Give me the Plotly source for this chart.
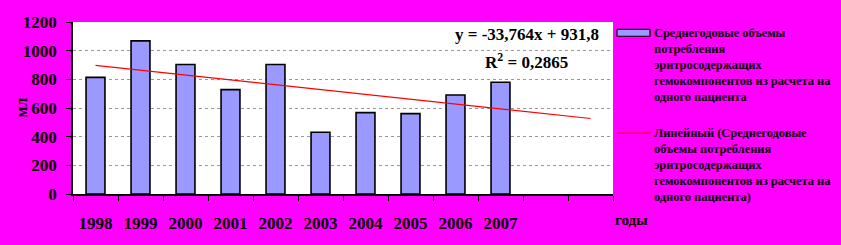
import plotly.graph_objects as go

years = ["1998", "1999", "2000", "2001", "2002", "2003", "2004", "2005", "2006", "2007"]
values = [814, 1068, 903, 728, 903, 431, 568, 561, 691, 780]
n_slots = 12
slope = -33.764
intercept = 931.8
r2_text = "0,2865"
y_ticks = [0, 200, 400, 600, 800, 1000, 1200]

bar_name = ("Среднегодовые объемы<br>потребления<br>эритросодержащих<br>"
            "гемокомпонентов из расчета на<br>одного пациента")
line_name = ("Линейный (Среднегодовые<br>объемы потребления<br>эритросодержащих<br>"
             "гемокомпонентов из расчета на<br>одного пациента)")

BAR_COLOR = "#9999FF"
LINE_COLOR = "#FF0000"

xs = list(range(1, len(years) + 1))
trend_x = [1, n_slots]
trend_y = [slope * x + intercept for x in trend_x]

SERIF = "Liberation Serif, Times New Roman, serif"

# plot area in pixels
L, R, T, B = 73, 613, 22, 197
W, H = R - L, B - T


def px_x(x):
    return (x - L) / W


def px_y(y):
    return (B - y) / H


fig = go.Figure()
fig.add_trace(go.Bar(
    x=xs, y=values, name=bar_name, width=0.42,
    marker=dict(color=BAR_COLOR, line=dict(color="black", width=1.6)),
    showlegend=False,
))
fig.add_trace(go.Scatter(
    x=trend_x, y=trend_y, mode="lines", name=line_name,
    line=dict(color=LINE_COLOR, width=1.2), showlegend=False,
))

fig.update_layout(
    width=841, height=245,
    margin=dict(l=L, r=841 - R, t=T, b=245 - B),
    paper_bgcolor="#FF00FF", plot_bgcolor="white",
    font=dict(family=SERIF, size=16, color="black"),
    showlegend=False,
)
fig.update_xaxes(
    range=[0.5, n_slots + 0.5],
    tickmode="array", tickvals=xs, ticktext=years, ticks="",
    minor=dict(tick0=0.5, dtick=1, ticks="outside", ticklen=5, tickcolor="black", showgrid=False),
    showline=True, linecolor="black", linewidth=1.5,
    showgrid=False, zeroline=False,
    ticklabelstandoff=13,
    tickfont=dict(family=SERIF, size=17, color="black", weight="bold"),
)
fig.update_yaxes(
    range=[0, 1200], tickmode="array", tickvals=y_ticks,
    ticks="outside", ticklen=5, tickcolor="black",
    showline=True, linecolor="black", linewidth=1.5,
    showgrid=True, gridcolor="#999999", griddash="dot", gridwidth=1,
    zeroline=False,
    ticklabelstandoff=6,
    tickfont=dict(family=SERIF, size=17, color="black", weight="bold"),
)

fig.add_annotation(
    xref="paper", yref="paper", x=px_x(601), y=px_y(35),
    xanchor="right", yanchor="middle", showarrow=False,
    text=f"y = {slope:.3f}x + {intercept:.1f}".replace(".", ","),
    font=dict(family=SERIF, size=17, color="black", weight="bold"),
)
fig.add_annotation(
    xref="paper", yref="paper", x=px_x(570), y=px_y(62),
    xanchor="right", yanchor="middle", showarrow=False,
    text=f"R<sup>2</sup> = {r2_text}",
    font=dict(family=SERIF, size=17, color="black", weight="bold"),
)
fig.add_annotation(
    xref="paper", yref="paper", x=px_x(22), y=px_y(109),
    xanchor="center", yanchor="middle", showarrow=False, textangle=-90,
    text="мл", font=dict(family=SERIF, size=16, color="black", weight="bold"),
)
fig.add_annotation(
    xref="paper", yref="paper", x=px_x(613), y=px_y(223),
    xanchor="left", yanchor="middle", showarrow=False,
    text="годы", font=dict(family=SERIF, size=15, color="black", weight="bold"),
)

# custom legend (symbols + text)
fig.add_shape(type="rect", xref="paper", yref="paper",
              x0=px_x(617), x1=px_x(650), y0=px_y(36.5), y1=px_y(29.5),
              fillcolor=BAR_COLOR, line=dict(color="black", width=1.2))
fig.add_shape(type="line", xref="paper", yref="paper",
              x0=px_x(617), x1=px_x(651), y0=px_y(135), y1=px_y(135),
              line=dict(color=LINE_COLOR, width=1))
for name, ytop in [(bar_name, 24), (line_name, 126)]:
    fig.add_annotation(
        xref="paper", yref="paper", x=px_x(652), y=px_y(ytop),
        xanchor="left", yanchor="top", align="left", showarrow=False,
        text=name, font=dict(family=SERIF, size=12.4, color="black", weight="bold"),
    )

fig.write_html("out.html")
